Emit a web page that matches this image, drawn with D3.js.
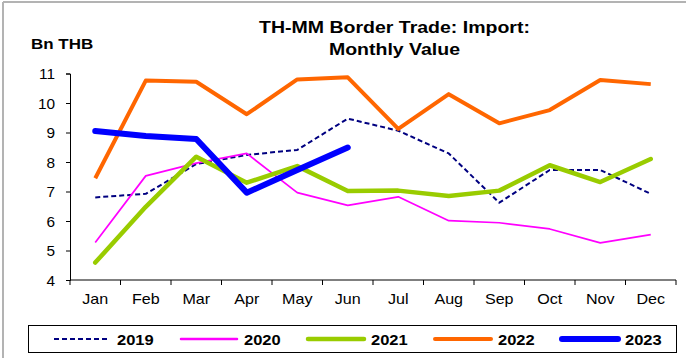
<!DOCTYPE html>
<html>
<head>
<meta charset="utf-8">
<script src="https://cdn.jsdelivr.net/npm/d3@7"></script>
<style>
  html, body { margin: 0; padding: 0; background: #fff; }
  svg { display: block; }
  text { font-family: "Liberation Sans", Arial, sans-serif; fill: #000; }
</style>
</head>
<body>
<svg id="chart" width="686" height="358"></svg>
<script>
// Monthly import values, billion THB
const months = ["Jan","Feb","Mar","Apr","May","Jun","Jul","Aug","Sep","Oct","Nov","Dec"];
const v2019 = [6.80, 6.92, 7.93, 8.24, 8.41, 9.47, 9.06, 8.29, 6.62, 7.73, 7.73, 6.92];
const v2020 = [5.27, 7.53, 7.96, 8.29, 6.96, 6.53, 6.82, 6.01, 5.94, 5.73, 5.26, 5.54];
const v2021 = [4.59, 6.48, 8.18, 7.30, 7.86, 7.02, 7.03, 6.85, 7.03, 7.89, 7.32, 8.10];
const v2022 = [7.45, 10.76, 10.72, 9.62, 10.80, 10.87, 9.12, 10.30, 9.31, 9.76, 10.78, 10.64];
const v2023 = [9.05, 8.88, 8.78, 6.96, 7.73, 8.49];
const yTicks = [4, 5, 6, 7, 8, 9, 10, 11];

const series = [
  { name: "2019", values: v2019, color: "#000080", width: 2,   dash: "5,3", cap: "butt" },
  { name: "2020", values: v2020, color: "#FF00FF", width: 1.7, dash: null,  cap: "butt" },
  { name: "2021", values: v2021, color: "#99CC00", width: 4.5, dash: null,  cap: "round" },
  { name: "2022", values: v2022, color: "#FF6600", width: 4,   dash: null,  cap: "butt" },
  { name: "2023", values: v2023, color: "#0000FF", width: 6,   dash: null,  cap: "round" }
];

const svg = d3.select("#chart");
const plot = { left: 70, right: 676, top: 73.5, bottom: 280 };

const x = d3.scaleBand().domain(months).range([plot.left, plot.right]).padding(0);
const y = d3.scaleLinear().domain([4, 11]).range([plot.bottom, plot.top]);

// text helper: the chart's lettering is slightly wide, so stretch horizontally
function label(g, tx, ty, str, opts) {
  const o = Object.assign({ size: 13, weight: "normal", anchor: "start", sx: 1.15 }, opts || {});
  return g.append("text")
    .attr("transform", `translate(${tx},${ty}) scale(${o.sx},1)`)
    .attr("text-anchor", o.anchor)
    .style("font-size", o.size + "px")
    .style("font-weight", o.weight)
    .text(str);
}

// outer frame (top and left edges)
svg.append("line").attr("x1", 3).attr("x2", 686).attr("y1", 2).attr("y2", 2)
  .attr("stroke", "#b3b3b3").attr("stroke-width", 2);
svg.append("line").attr("x1", 3).attr("x2", 3).attr("y1", 2).attr("y2", 358)
  .attr("stroke", "#b3b3b3").attr("stroke-width", 2);

// title
label(svg, 394.5, 33, "TH-MM Border Trade: Import:", { size: 16, weight: "bold", anchor: "middle", sx: 1.22 });
label(svg, 394.5, 55, "Monthly Value", { size: 16, weight: "bold", anchor: "middle", sx: 1.22 });
label(svg, 31, 49, "Bn THB", { size: 15, weight: "bold", sx: 1.13 });

// y axis
const yAxis = d3.axisLeft(y).tickValues(yTicks).tickSize(4).tickPadding(6).tickFormat(d3.format("d"));
const gy = svg.append("g").attr("transform", `translate(${plot.left},0)`).call(yAxis);
gy.select(".domain").attr("stroke", "#000").attr("stroke-width", 1);
gy.selectAll(".tick line").attr("stroke", "#000");
gy.selectAll(".tick text").remove();
gy.selectAll(".tick").each(function (d) {
  label(d3.select(this), -15, 5, String(d), { size: 14, anchor: "end", sx: 1.1 });
});

// x axis: ticks at band boundaries, labels at band centres
const gx = svg.append("g").attr("transform", `translate(0,${plot.bottom})`);
gx.append("line").attr("x1", plot.left).attr("x2", plot.right).attr("stroke", "#000");
const edges = months.map(m => x(m)).concat([x.range()[1]]);
gx.selectAll("line.tk").data(edges).join("line").attr("class", "tk")
  .attr("x1", d => d).attr("x2", d => d).attr("y1", 0).attr("y2", 5).attr("stroke", "#000");
months.forEach(m => label(gx, x(m) + x.bandwidth() / 2, 24, m, { size: 14, anchor: "middle", sx: 1.15 }));

// series lines
const line = d3.line()
  .x((d, i) => x(months[i]) + x.bandwidth() / 2)
  .y(d => y(d));

series.forEach(s => {
  svg.append("path")
    .datum(s.values)
    .attr("d", line)
    .attr("fill", "none")
    .attr("stroke", s.color)
    .attr("stroke-width", s.width)
    .attr("stroke-linejoin", "round")
    .attr("stroke-linecap", s.cap)
    .attr("stroke-dasharray", s.dash);
});

// legend
const lg = svg.append("g");
lg.append("rect").attr("x", 28.5).attr("y", 325.5).attr("width", 648).attr("height", 27)
  .attr("fill", "#fff").attr("stroke", "#000").attr("stroke-width", 1);
series.forEach((s, i) => {
  const x0 = 54 + i * 127;
  lg.append("line").attr("x1", x0).attr("x2", x0 + 56).attr("y1", 339).attr("y2", 339)
    .attr("stroke", s.color).attr("stroke-width", s.dash ? 2 : Math.max(s.width, 2.5))
    .attr("stroke-linecap", s.dash ? "butt" : "round")
    .attr("stroke-dasharray", s.dash);
  label(lg, x0 + 63, 345, s.name, { size: 15, weight: "bold", sx: 1.1 });
});
</script>
</body>
</html>
